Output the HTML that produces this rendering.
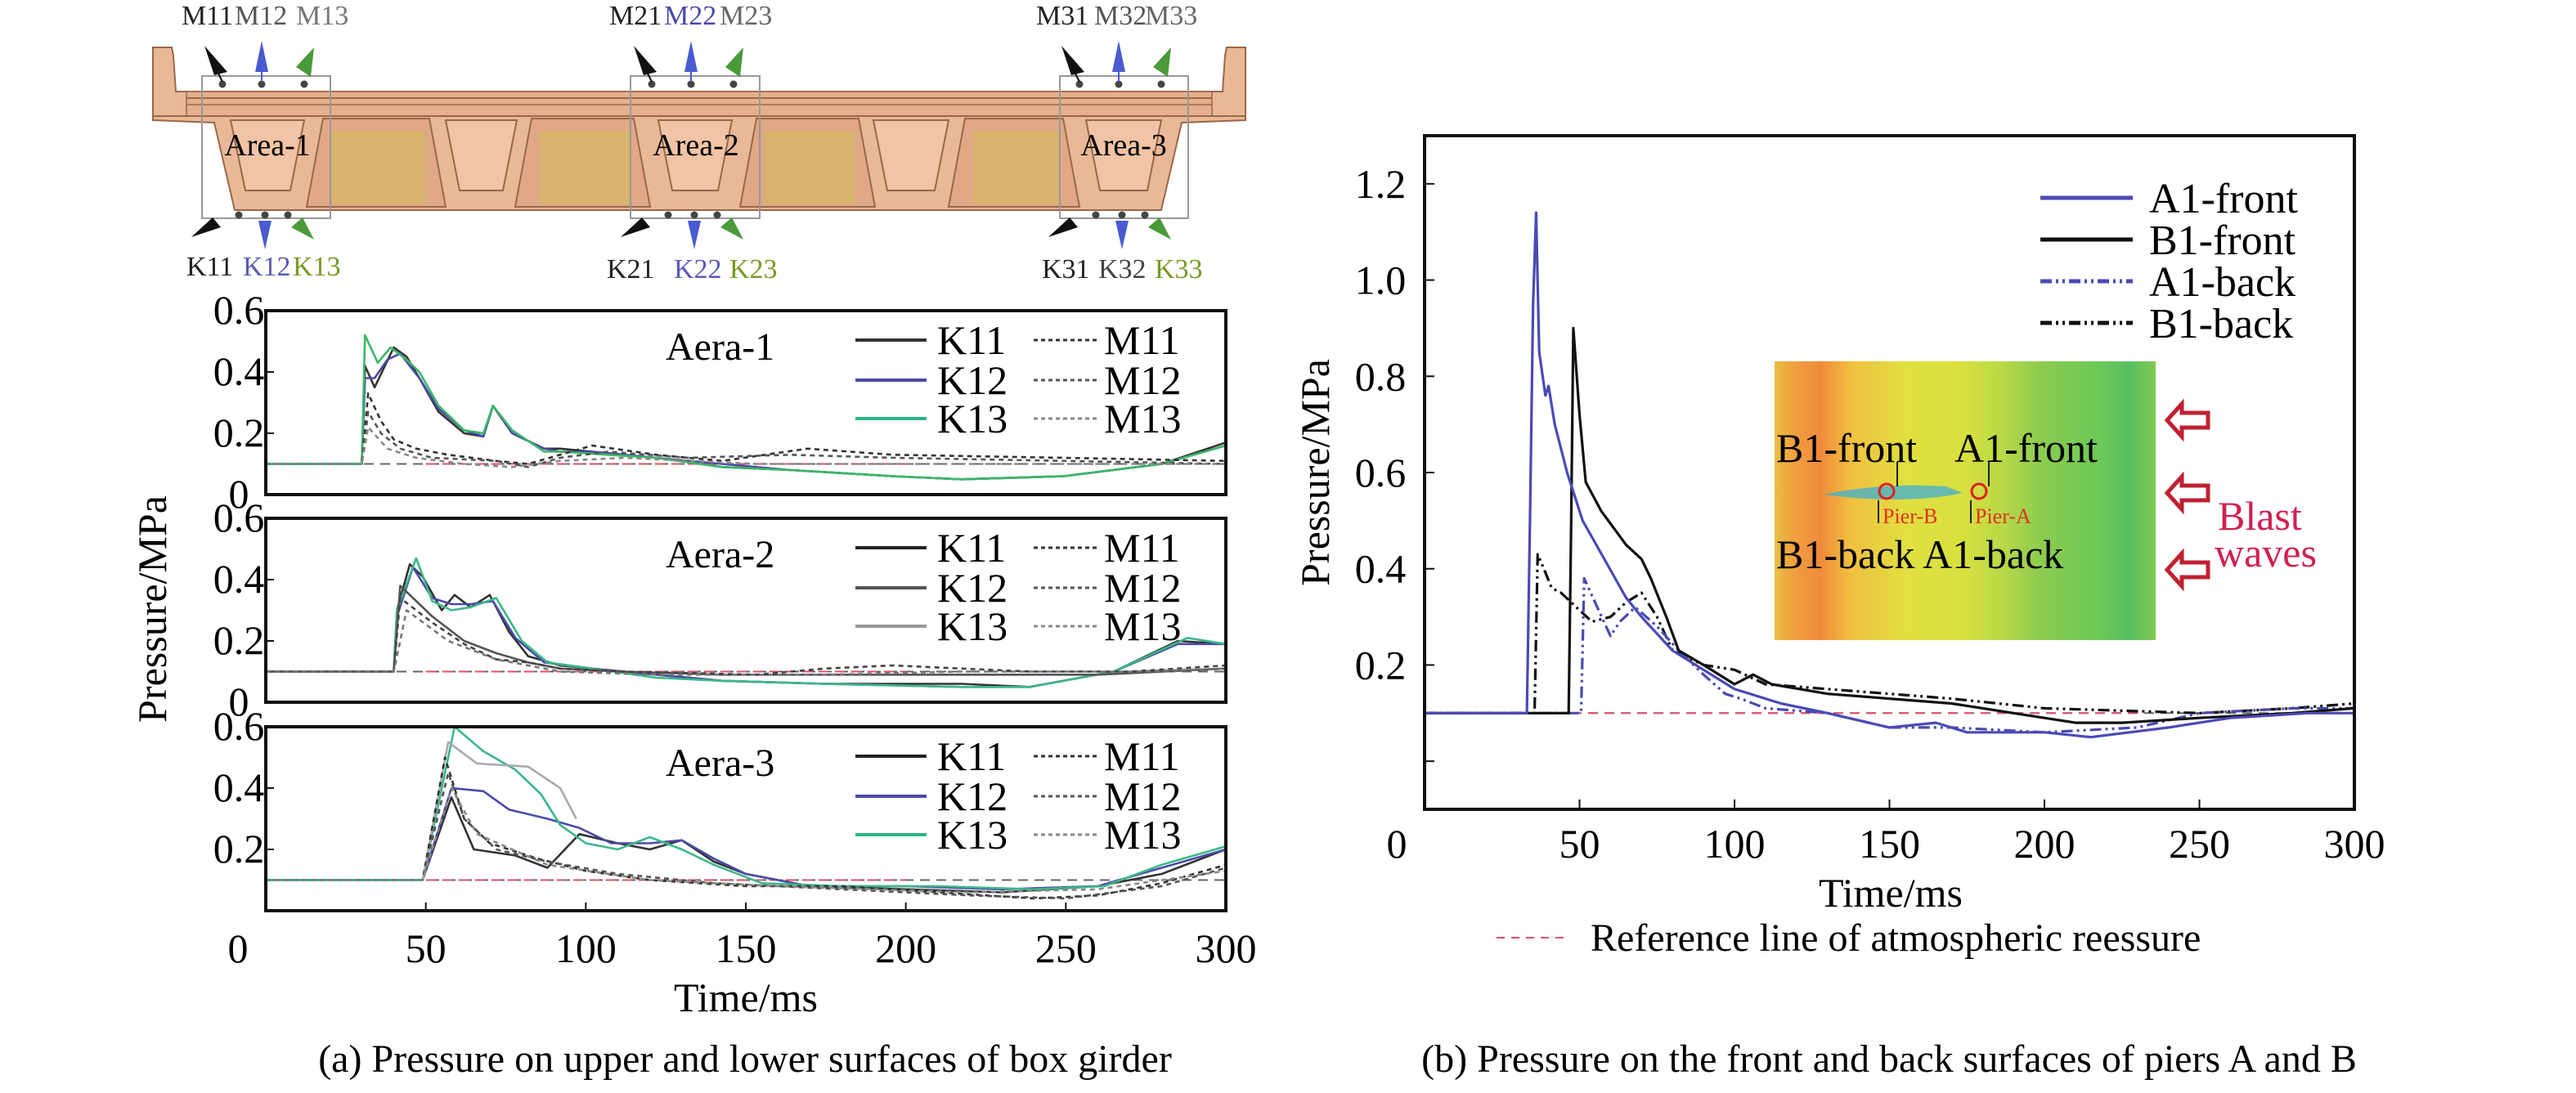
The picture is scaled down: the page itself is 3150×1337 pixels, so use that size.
<!DOCTYPE html>
<html><head><meta charset="utf-8">
<style>
html,body{margin:0;padding:0;background:#fff;}
svg text{font-family:"Liberation Serif",serif;}
</style></head><body>
<svg id="s" width="3150" height="1332" viewBox="0 0 3150 1332" xmlns="http://www.w3.org/2000/svg">
<rect width="3150" height="1332" fill="#fff"/>
<g id="girder">
 <path d="M187,58 L210,58 L212,68 L215,112 L1495,112 L1498,68 L1500,58 L1523,58 L1523,147 L1445,150 L1420,257 L287,257 L262,150 L187,147 Z" fill="#e8b898" stroke="#9a6848" stroke-width="2"/>
 <rect x="228" y="112" width="1254" height="30" fill="#e6b08e" stroke="#9a6848" stroke-width="1.5"/>
 <line x1="228" y1="120" x2="1482" y2="120" stroke="#9a6848" stroke-width="2"/>
 <line x1="228" y1="128" x2="1482" y2="128" stroke="#9a6848" stroke-width="1.5"/>
 <line x1="187" y1="142" x2="1523" y2="142" stroke="#9a6848" stroke-width="2"/>
 <g fill="#e0a886" stroke="#9a6848" stroke-width="2">
  <path d="M395,145 L525,145 L545,253 L375,253 Z"/>
  <path d="M650,145 L775,145 L795,253 L630,253 Z"/>
  <path d="M925,145 L1050,145 L1070,253 L905,253 Z"/>
  <path d="M1180,145 L1300,145 L1320,253 L1160,253 Z"/>
 </g>
 <g fill="#d8b46e">
  <rect x="405" y="160" width="115" height="90"/>
  <rect x="660" y="160" width="110" height="90"/>
  <rect x="935" y="160" width="110" height="90"/>
  <rect x="1190" y="160" width="105" height="90"/>
 </g>
 <g fill="#f0c4a4" stroke="#9a6848" stroke-width="2">
  <path d="M282,147 L372,147 L355,233 L300,233 Z"/>
  <path d="M545,147 L632,147 L615,233 L562,233 Z"/>
  <path d="M805,147 L895,147 L878,233 L822,233 Z"/>
  <path d="M1068,147 L1160,147 L1143,233 L1085,233 Z"/>
  <path d="M1328,147 L1420,147 L1403,233 L1345,233 Z"/>
 </g>
 <g fill="none" stroke="#999" stroke-width="2">
  <rect x="247" y="93" width="157" height="174"/>
  <rect x="771" y="93" width="158" height="174"/>
  <rect x="1296" y="93" width="157" height="174"/>
 </g>
 <g font-size="38" text-anchor="middle">
  <text x="327" y="190">Area-1</text><text x="851" y="190">Area-2</text><text x="1374" y="190">Area-3</text>
 </g>
 <g id="arrows"></g>
 <g font-size="34">
  <text x="222" y="30" fill="#222">M11</text><text x="287" y="30" fill="#555">M12</text><text x="362" y="30" fill="#777">M13</text>
  <text x="745" y="30" fill="#222">M21</text><text x="812" y="30" fill="#4a4aa8">M22</text><text x="880" y="30" fill="#666">M23</text>
  <text x="1267" y="30" fill="#222">M31</text><text x="1338" y="30" fill="#555">M32</text><text x="1400" y="30" fill="#666">M33</text>
  <text x="228" y="337" fill="#222">K11</text><text x="297" y="337" fill="#5a5ab8">K12</text><text x="358" y="337" fill="#7a9a20">K13</text>
  <text x="742" y="340" fill="#222">K21</text><text x="824" y="340" fill="#5a5ab8">K22</text><text x="892" y="340" fill="#7a9a20">K23</text>
  <text x="1274" y="340" fill="#222">K31</text><text x="1343" y="340" fill="#444">K32</text><text x="1412" y="340" fill="#7a9a20">K33</text>
 </g>
</g>
<g id="plots"></g>
</svg>
<script>
var NS="http://www.w3.org/2000/svg";
var root=document.getElementById('plots');
function el(tag,attrs,parent,txt){var e=document.createElementNS(NS,tag);for(var k in attrs)e.setAttribute(k,attrs[k]);if(txt!==undefined)e.textContent=txt;(parent||root).appendChild(e);return e;}
var ar=document.getElementById('arrows');
[272,797,1320].forEach(function(c){
 [0,48,100].forEach(function(d){el('circle',{cx:c+d,cy:103,r:4.5,fill:'#444'},ar);});
 [20,52,80].forEach(function(d){el('circle',{cx:c+d,cy:263,r:4.5,fill:'#444'},ar);});
 el('path',{d:'M'+(c-22)+',56 L'+(c+6)+',88 L'+(c-10)+',92 Z',fill:'#111'},ar);
 el('line',{x1:c-6,y1:88,x2:c,y2:100,stroke:'#111','stroke-width':2},ar);
 el('path',{d:'M'+(c+48)+',50 L'+(c+56)+',88 L'+(c+40)+',88 Z',fill:'#4a5ad0'},ar);
 el('line',{x1:c+48,y1:88,x2:c+48,y2:100,stroke:'#4a5ad0','stroke-width':2},ar);
 el('path',{d:'M'+(c+112)+',58 L'+(c+108)+',94 L'+(c+90)+',82 Z',fill:'#4a9a3a'},ar);
 el('path',{d:'M'+(c-38)+',290 L'+(c-12)+',266 L'+(c-2)+',278 Z',fill:'#111'},ar);
 el('path',{d:'M'+(c+52)+',305 L'+(c+44)+',270 L'+(c+60)+',270 Z',fill:'#4a5ad0'},ar);
 el('path',{d:'M'+(c+112)+',293 L'+(c+84)+',278 L'+(c+98)+',266 Z',fill:'#4a9a3a'},ar);
});

function pathD(pts,X,Y){return pts.map(function(p,i){return (i?'L':'M')+X(p[0]).toFixed(1)+','+Y(p[1]).toFixed(1);}).join(' ');}

var LX0=325,LX1=1499;
function LX(t){return LX0+t*(LX1-LX0)/300;}
var panels=[
 {top:380,name:'Aera-1',s:8,
  lg:[['K11','#333'],['K12','#4a4aa8'],['K13','#2ab58a']],
  series:[
   {c:'#333',d:[[0,.1],[38,.1],[39,.42],[42,.35],[48,.48],[52,.45],[56,.38],[62,.27],[70,.2],[76,.19],[79,.29],[85,.2],[95,.15],[100,.15],[110,.14],[130,.12],[150,.09],[170,.08],[200,.06],[220,.05],[250,.06],[280,.1],[300,.17]]},
   {c:'#4a4aa8',d:[[0,.1],[38,.1],[39,.38],[42,.38],[46,.44],[50,.46],[56,.38],[62,.28],[70,.21],[76,.19],[79,.29],[85,.2],[95,.15],[100,.14],[110,.14],[130,.12],[150,.1],[170,.08],[200,.06],[220,.05],[250,.06],[280,.1],[300,.16]]},
   {c:'#3ab868',d:[[0,.1],[38,.1],[39,.52],[43,.43],[47,.48],[52,.44],[56,.4],[62,.29],[70,.21],[76,.2],[79,.29],[85,.21],[95,.14],[100,.14],[115,.13],[130,.12],[150,.09],[170,.08],[200,.06],[220,.05],[250,.06],[280,.1],[300,.16]]},
   {c:'#333',dash:'6,5',d:[[0,.1],[38,.1],[40,.33],[44,.24],[48,.18],[55,.15],[65,.13],[80,.11],[90,.1],[100,.13],[110,.16],[130,.13],[150,.11],[175,.15],[200,.13],[250,.12],[300,.11]]},
   {c:'#555',dash:'6,5',d:[[0,.1],[38,.1],[40,.27],[44,.2],[50,.15],[60,.12],[80,.11],[90,.09],[100,.12],[115,.14],[140,.12],[170,.13],[200,.12],[250,.11],[300,.1]]},
   {c:'#888',dash:'6,5',d:[[0,.1],[38,.1],[40,.22],[46,.15],[55,.12],[70,.1],[85,.09],[100,.11],[120,.12],[160,.1],[200,.1],[260,.1],[300,.1]]}
  ]},
 {top:634,name:'Aera-2',s:8,
  lg:[['K11','#222'],['K12','#555'],['K13','#999']],
  series:[
   {c:'#333',d:[[0,.1],[48,.1],[49,.3],[53,.45],[57,.41],[63,.3],[67,.35],[72,.31],[78,.35],[84,.23],[90,.15],[100,.12],[110,.11],[130,.09],[150,.07],[180,.06],[220,.06],[240,.05],[265,.1],[285,.2],[300,.19]]},
   {c:'#4a4aa8',d:[[0,.1],[48,.1],[49,.28],[54,.44],[60,.34],[66,.32],[72,.32],[79,.33],[86,.21],[95,.13],[110,.11],[130,.09],[150,.07],[180,.06],[220,.05],[240,.05],[265,.1],[285,.19],[300,.19]]},
   {c:'#3ab888',d:[[0,.1],[48,.1],[49,.3],[55,.47],[60,.33],[66,.3],[72,.31],[80,.34],[88,.2],[96,.13],[110,.11],[130,.08],[150,.07],[180,.06],[220,.05],[240,.05],[265,.1],[288,.21],[300,.19]]},
   {c:'#555',d:[[0,.1],[48,.1],[50,.38],[60,.28],[70,.2],[80,.16],[90,.13],[100,.11],[120,.1],[150,.09],[200,.09],[260,.09],[300,.11]]},
   {c:'#444',dash:'6,5',d:[[0,.1],[48,.1],[50,.34],[60,.26],[70,.19],[80,.14],[90,.13],[100,.11],[120,.1],[160,.09],[180,.11],[200,.12],[240,.1],[270,.1],[300,.12]]},
   {c:'#777',dash:'6,5',d:[[0,.1],[48,.1],[52,.3],[65,.2],[80,.14],[100,.1],[130,.09],[180,.09],[220,.1],[270,.1],[300,.11]]}
  ]},
 {top:889,name:'Aera-3',s:0,
  lg:[['K11','#222'],['K12','#4a4aa8'],['K13','#2ab58a']],
  series:[
   {c:'#333',d:[[0,.1],[49,.1],[58,.37],[65,.2],[78,.18],[88,.14],[98,.25],[110,.22],[120,.2],[130,.23],[140,.16],[150,.12],[170,.08],[200,.07],[230,.06],[260,.08],[280,.12],[300,.2]]},
   {c:'#4a4aa8',d:[[0,.1],[49,.1],[58,.4],[68,.39],[76,.33],[88,.3],[98,.27],[108,.22],[120,.22],[130,.23],[140,.17],[150,.12],[170,.08],[200,.08],[230,.07],[260,.08],[280,.14],[300,.2]]},
   {c:'#3ab888',d:[[0,.1],[49,.1],[59,.6],[68,.52],[78,.46],[86,.38],[92,.28],[100,.22],[110,.2],[120,.24],[130,.2],[140,.15],[155,.09],[180,.08],[210,.08],[240,.07],[262,.08],[280,.15],[300,.21]]},
   {c:'#aaa',d:[[49,.1],[57,.55],[66,.48],[82,.47],[92,.4],[97,.3]]},
   {c:'#333',dash:'6,5',d:[[0,.1],[49,.1],[56,.5],[62,.3],[70,.22],[85,.17],[100,.13],[120,.1],[150,.08],[180,.08],[210,.06],[240,.04],[260,.05],[280,.09],[300,.15]]},
   {c:'#555',dash:'6,5',d:[[0,.1],[49,.1],[57,.45],[62,.3],[72,.2],[88,.16],[110,.12],[140,.09],[180,.07],[220,.05],[250,.04],[280,.08],[300,.14]]},
   {c:'#888',dash:'6,5',d:[[0,.1],[49,.1],[58,.4],[66,.25],[88,.15],[120,.1],[160,.08],[220,.06],[260,.07],[300,.13]]}
  ]}
];
var PH=225;
panels.forEach(function(P,pi){
 var T=P.top;
 function Y(p){return T+PH*(0.6-p)/0.6;}
 function SX(t){ if(t>0&&t<300){t=t-P.s*Math.max(0,Math.min(1,(260-t)/120));} return LX(t);}
 var g=el('g',{});
 var cid='c'+pi;
 var cp=el('clipPath',{id:cid},g);el('rect',{x:LX0,y:T,width:LX1-LX0,height:PH},cp);
 var gc=el('g',{'clip-path':'url(#'+cid+')'},g);
 el('line',{x1:LX0,y1:Y(.1),x2:LX1,y2:Y(.1),stroke:'#666','stroke-dasharray':'12,8','stroke-width':2},gc);
 el('line',{x1:LX(50),y1:Y(.1),x2:LX(200),y2:Y(.1),stroke:'#e0506a','stroke-dasharray':'12,8','stroke-width':2},gc);
 P.series.forEach(function(s){
  var a={d:pathD(s.d,SX,Y),fill:'none',stroke:s.c,'stroke-width':2.6,'stroke-linejoin':'round'};
  if(s.dash)a['stroke-dasharray']=s.dash;
  el('path',a,gc);
 });
 el('rect',{x:LX0,y:T,width:LX1-LX0,height:PH,fill:'none',stroke:'#111','stroke-width':4},g);
 [0.2,0.4].forEach(function(v){el('line',{x1:LX0,y1:Y(v),x2:LX0+10,y2:Y(v),stroke:'#111','stroke-width':2},g);});
 [[0.6,'0.6'],[0.4,'0.4'],[0.2,'0.2'],[0,'0']].forEach(function(v){
  if(pi==2&&v[0]==0)return;
  el('text',{x:292,y:Y(v[0])+16,'font-size':50,'text-anchor':'middle'},g,v[1]);
 });
 if(pi==2){[50,100,150,200,250].forEach(function(t){el('line',{x1:LX(t),y1:T+PH,x2:LX(t),y2:T+PH-10,stroke:'#111','stroke-width':2},g);});}
 el('text',{x:814,y:T+60,'font-size':48},g,P.name);
 var ly=[T+36,T+85,T+132];
 P.lg.forEach(function(L,i){
  el('line',{x1:1046,y1:ly[i],x2:1133,y2:ly[i],stroke:L[1],'stroke-width':4},g);
  el('text',{x:1146,y:ly[i]+17,'font-size':50},g,L[0]);
  el('line',{x1:1264,y1:ly[i],x2:1342,y2:ly[i],stroke:['#333','#555','#888'][i],'stroke-width':3,'stroke-dasharray':'5,4'},g);
  el('text',{x:1350,y:ly[i]+17,'font-size':50},g,'M1'+(i+1));
 });
});
[0,50,100,150,200,250,300].forEach(function(t,i){el('text',{x:(i==0?291:LX(t)),y:1177,'font-size':50,'text-anchor':'middle'},root,String(t));});
el('text',{x:912,y:1237,'font-size':50,'text-anchor':'middle'},root,'Time/ms');
el('text',{x:0,y:0,'font-size':50,'text-anchor':'middle',transform:'translate(203,745) rotate(-90)'},root,'Pressure/MPa');
el('text',{x:911,y:1311,'font-size':48,'text-anchor':'middle'},root,'(a) Pressure on upper and lower surfaces of box girder');

var RX0=1742,RX1=2879,RT=166,RB=990;
function RX(t){return RX0+t*(RX1-RX0)/300;}
function RY(p){return RT+(1.3-p)*(RB-RT)/1.4;}
var cpR=el('clipPath',{id:'cr'});el('rect',{x:RX0,y:RT,width:RX1-RX0,height:RB-RT},cpR);
var defs=el('defs',{});
var lg=el('linearGradient',{id:'ig',x1:0,y1:0,x2:1,y2:0},defs);
[[0,'#e8c040'],[0.05,'#f0a040'],[0.12,'#f08a3a'],[0.2,'#f0c040'],[0.35,'#e0e040'],[0.5,'#d8e040'],[0.6,'#b8d848'],[0.7,'#8ccc50'],[0.85,'#6cc858'],[0.93,'#58c060'],[1,'#80c850']].forEach(function(s){el('stop',{offset:s[0],'stop-color':s[1]},lg);});
el('rect',{x:2170,y:442,width:466,height:341,fill:'url(#ig)'});
el('path',{d:'M2230,605 Q2300,590 2380,595 L2400,603 Q2330,618 2230,605 Z',fill:'#4ab0c8',opacity:0.8});
el('circle',{cx:2307,cy:601,r:9,fill:'none',stroke:'#e02020','stroke-width':3});
el('circle',{cx:2420,cy:601,r:9,fill:'none',stroke:'#e02020','stroke-width':3});
el('line',{x1:2320,y1:565,x2:2320,y2:595,stroke:'#222','stroke-width':2});
el('line',{x1:2432,y1:565,x2:2432,y2:595,stroke:'#222','stroke-width':2});
el('line',{x1:2297,y1:612,x2:2297,y2:640,stroke:'#222','stroke-width':2});
el('line',{x1:2410,y1:612,x2:2410,y2:640,stroke:'#222','stroke-width':2});
el('text',{x:2302,y:640,'font-size':26,fill:'#e03020'},root,'Pier-B');
el('text',{x:2415,y:640,'font-size':26,fill:'#e03020'},root,'Pier-A');
el('text',{x:2172,y:565,'font-size':50},root,'B1-front');
el('text',{x:2390,y:565,'font-size':50},root,'A1-front');
el('text',{x:2172,y:695,'font-size':50},root,'B1-back A1-back');
[514,603,697].forEach(function(y){el('path',{d:'M2650,'+y+' L2668,'+(y-20)+' L2668,'+(y-9)+' L2700,'+(y-9)+' L2700,'+(y+9)+' L2668,'+(y+9)+' L2668,'+(y+20)+' Z',fill:'#fff',stroke:'#c02030','stroke-width':5});});
el('text',{x:2712,y:648,'font-size':50,fill:'#d02050'},root,'Blast');
el('text',{x:2708,y:693,'font-size':50,fill:'#d02050'},root,'waves');
var gr=el('g',{'clip-path':'url(#cr)'});
el('line',{x1:RX0,y1:RY(.1),x2:RX1,y2:RY(.1),stroke:'#666','stroke-dasharray':'12,8','stroke-width':2},gr);
el('line',{x1:RX0,y1:RY(.1),x2:RX(230),y2:RY(.1),stroke:'#e0506a','stroke-dasharray':'12,8','stroke-width':2},gr);
var RS=[
 {c:'#111',dash:'14,5,3,5,3,5',d:[[0,.1],[35.5,.1],[36.5,.43],[38.5,.4],[41,.36],[44,.35],[49,.32],[54,.29],[60,.3],[65,.33],[70,.35],[75,.3],[80,.23],[90,.2],[100,.19],[110,.16],[130,.15],[150,.14],[170,.13],[185,.12],[200,.11],[250,.1],[280,.11],[300,.12]]},
 {c:'#4a4ab0',dash:'14,5,3,5,3,5',d:[[0,.1],[50.5,.1],[51.5,.38],[55,.33],[60,.26],[63,.29],[68,.32],[75,.28],[82,.23],[90,.18],[97,.14],[102,.13],[110,.11],[130,.1],[150,.07],[170,.07],[200,.06],[230,.07],[250,.1],[280,.11],[300,.11]]},
 {c:'#111',d:[[0,.1],[46.5,.1],[47.3,.5],[48,.9],[50,.72],[52,.58],[57,.52],[65,.45],[70,.42],[73,.38],[78,.3],[82,.23],[90,.2],[100,.16],[106,.18],[112,.16],[130,.14],[150,.13],[170,.12],[190,.1],[210,.08],[225,.08],[250,.09],[280,.1],[300,.11]]},
 {c:'#4a4ab8',d:[[0,.1],[33,.1],[34,.5],[35,.95],[36,1.14],[37,.85],[39,.76],[40,.78],[42,.7],[46,.6],[51,.5],[58,.42],[65,.34],[70,.3],[80,.23],[90,.19],[100,.15],[115,.12],[130,.1],[150,.07],[165,.08],[175,.06],[200,.06],[215,.05],[240,.07],[260,.09],[285,.1],[300,.1]]}
];
RS.forEach(function(s){var a={d:pathD(s.d,RX,RY),fill:'none',stroke:s.c,'stroke-width':3.2,'stroke-linejoin':'round'};if(s.dash)a['stroke-dasharray']=s.dash;el('path',a,gr);});
el('rect',{x:RX0,y:RT,width:RX1-RX0,height:RB-RT,fill:'none',stroke:'#111','stroke-width':4});
[0,0.2,0.4,0.6,0.8,1.0,1.2].forEach(function(v){el('line',{x1:RX0,y1:RY(v),x2:RX0+12,y2:RY(v),stroke:'#111','stroke-width':2});});
[[1.2,'1.2'],[1.0,'1.0'],[0.8,'0.8'],[0.6,'0.6'],[0.4,'0.4'],[0.2,'0.2']].forEach(function(v){el('text',{x:1688,y:RY(v[0])+17,'font-size':50,'text-anchor':'middle'},root,v[1]);});
[50,100,150,200,250].forEach(function(t){el('line',{x1:RX(t),y1:RB,x2:RX(t),y2:RB-12,stroke:'#111','stroke-width':2});});
[0,50,100,150,200,250,300].forEach(function(t,i){el('text',{x:(i==0?1708:RX(t)),y:1049,'font-size':50,'text-anchor':'middle'},root,String(t));});
el('text',{x:2312,y:1109,'font-size':50,'text-anchor':'middle'},root,'Time/ms');
el('text',{x:0,y:0,'font-size':50,'text-anchor':'middle',transform:'translate(1625,578) rotate(-90)'},root,'Pressure/MPa');
el('line',{x1:1830,y1:1147,x2:1920,y2:1147,stroke:'#e0506a','stroke-width':2,'stroke-dasharray':'10,8'});
el('text',{x:1945,y:1163,'font-size':48},root,'Reference line of atmospheric reessure');
el('text',{x:2310,y:1311,'font-size':48,'text-anchor':'middle'},root,'(b) Pressure on the front and back surfaces of piers A and B');
[['A1-front','#4a4ab8',null,242],['B1-front','#111',null,293],['A1-back','#4a4ab8','14,5,3,5,3,5',344],['B1-back','#111','14,5,3,5,3,5',395]].forEach(function(L){
 var a={x1:2495,y1:L[3],x2:2608,y2:L[3],stroke:L[1],'stroke-width':5};if(L[2])a['stroke-dasharray']=L[2];el('line',a);
 el('text',{x:2628,y:L[3]+18,'font-size':52},root,L[0]);
});
</script>
</body></html>
